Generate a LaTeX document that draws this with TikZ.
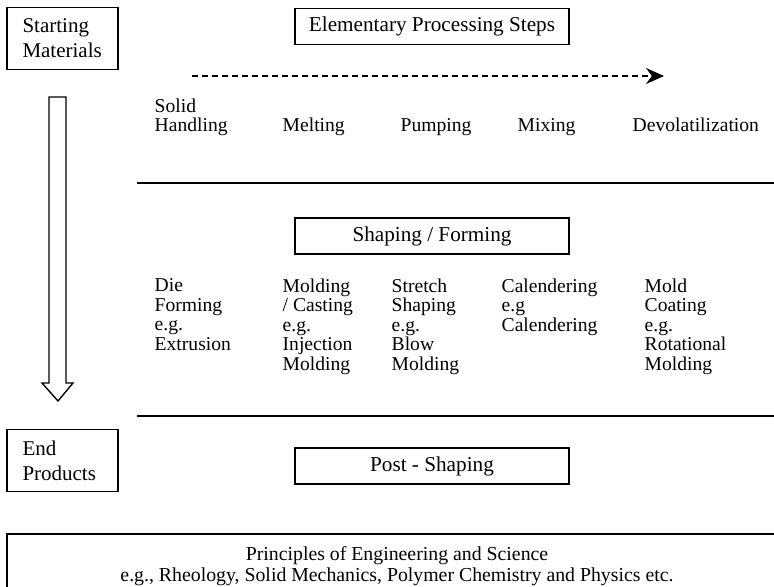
\documentclass[tikz,border=0pt]{standalone}
\usepackage{fontspec}
\setmainfont{Liberation Serif}
\usetikzlibrary{arrows.meta}
\begin{document}
\begin{tikzpicture}[x=0.5pt,y=-0.5pt,line width=0.7pt,
    every node/.style={font=\fontsize{9.8}{9.75}\selectfont,inner sep=0pt},
    endbox/.style={draw,minimum width=55.5pt,minimum height=31pt,text width=40pt,align=left,
      font=\fontsize{10.5}{12.5}\selectfont},
    stagebox/.style={draw,minimum width=137pt,minimum height=18pt,font=\fontsize{10.6}{12}\selectfont},
    steptext/.style={anchor=base west},
    formtext/.style={anchor=north west,align=left}]
        \useasboundingbox (0,0) rectangle (774,587);
        % left column
        \node[endbox] (start) at (62.5,38.5) {Starting\\Materials};
        \node[endbox] (finish) at (62.5,460.5) {End\\Products};
        \draw (49,97) -- (66,97) -- (66,383) -- (73,383) -- (58,401) -- (42,383) -- (49,383) -- cycle;
        % stage headings
        \node[stagebox] (steps) at (432,26.5) {Elementary Processing Steps};
        \node[stagebox] (shaping) at (432,236) {Shaping / Forming};
        \node[stagebox] (post) at (432,466) {Post - Shaping};
        % elementary steps
        \coordinate (flowstart) at (192,76);
        \coordinate (flowend) at (664,76);
        \draw[-{Stealth[length=9pt,width=8pt]},dash pattern=on 3pt off 2pt] (flowstart) -- (flowend);
        \node[formtext] (solid) at (154,98) {Solid\\Handling};
        \node[steptext] (melt) at (282,131.5) {Melting};
        \node[steptext] (pump) at (400,131.5) {Pumping};
        \node[steptext] (mix) at (517,131.5) {Mixing};
        \node[steptext] (devol) at (632,131.5) {Devolatilization};
        \draw (137,183) -- (774,183);
        % shaping methods
        \node[formtext] (die) at (154,278) {Die\\Forming\\e.g.\\Extrusion};
        \node[formtext] (mold) at (282,278) {Molding\\/ Casting\\e.g.\\Injection\\Molding};
        \node[formtext] (stretch) at (391,278) {Stretch\\Shaping\\e.g.\\Blow\\Molding};
        \node[formtext] (calender) at (501,278) {Calendering\\e.g\\Calendering};
        \node[formtext] (coat) at (644,278) {Mold\\Coating\\e.g.\\Rotational\\Molding};
        \draw (137,416) -- (774,416);
        % principles
        \draw (7,590) -- (7,534) -- (777,534);
        \node[align=center,font=\fontsize{9.9}{10.6}\selectfont] (basis) at (397,566.5)
          {Principles of Engineering and Science\\e.g., Rheology, Solid Mechanics, Polymer Chemistry and Physics etc.};
      \end{tikzpicture}
\end{document}
